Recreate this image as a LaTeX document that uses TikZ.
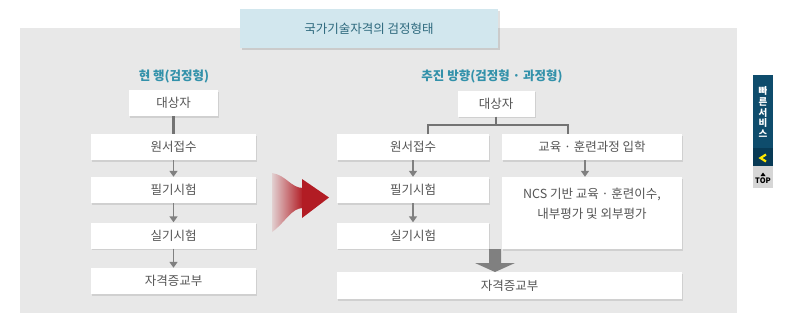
\documentclass[tikz,border=0pt]{standalone}
\usepackage{fontspec}
\newfontfamily\krfont{Noto Sans CJK KR}
\usetikzlibrary{shadows,arrows.meta}
\definecolor{panelgray}{RGB}{232,232,232}
\definecolor{titleblue}{RGB}{210,231,238}
\definecolor{titleink}{RGB}{45,105,125}
\definecolor{headteal}{RGB}{50,145,170}
\definecolor{boxink}{RGB}{85,85,85}
\definecolor{linkgray}{RGB}{128,128,128}
\definecolor{shiftred}{RGB}{178,28,36}
\definecolor{sidenavy}{RGB}{14,76,108}
\definecolor{sidedark}{RGB}{8,58,85}
\definecolor{topgray}{RGB}{214,214,214}
\tikzset{
  stepbox/.style={fill=white,text=boxink,inner sep=0pt,minimum height=26pt,
    align=center,font=\krfont\fontsize{12.5}{20}\selectfont,
    drop shadow={shadow xshift=1pt,shadow yshift=-1.5pt,opacity=.1,fill=black}},
  titlebox/.style={fill=titleblue,text=titleink,inner sep=0pt,
    font=\krfont\fontsize{12.5}{15}\selectfont,
    drop shadow={shadow xshift=1.5pt,shadow yshift=-2pt,opacity=.12,fill=black}},
  headtext/.style={text=headteal,font=\krfont\bfseries\fontsize{12.5}{15}\selectfont},
  flowlink/.style={draw=linkgray,line width=1.8pt,-{Triangle[width=8pt,length=6pt]}},
  stemlink/.style={draw=linkgray!90!black,line width=2.6pt},
  forklink/.style={draw=linkgray!90!black,line width=2pt},
  every picture/.style={line join=miter}
}
\begin{document}
\begin{tikzpicture}[x=1pt,y=-1pt]
  \useasboundingbox (0,0) rectangle (800,316);
  \fill[panelgray] (20,28) rectangle (737,313);
  \node[titlebox,minimum width=258pt,minimum height=39pt] (title) at (369,28.5)
    {국가기술자격의 검정형태};

  % current system
  \node[headtext] (nowhead) at (174,76) {현 행(검정형)};
  \node[stepbox,minimum width=89pt] (ltarget) at (173.5,103) {대상자};
  \node[stepbox,minimum width=165pt] (lapply) at (173.5,147) {원서접수};
  \node[stepbox,minimum width=165pt] (lwrite) at (173.5,190) {필기시험};
  \node[stepbox,minimum width=165pt] (lpract) at (173.5,235.5) {실기시험};
  \node[stepbox,minimum width=165pt] (lissue) at (173.5,281) {자격증교부};
  \draw[stemlink] (ltarget) -- (lapply);
  \draw[flowlink] (lapply) -- (lwrite);
  \draw[flowlink] (lwrite) -- (lpract);
  \draw[flowlink] (lpract) -- (lissue);

  % red shift arrow
  \shade[left color=shiftred!12!panelgray,right color=shiftred]
    (272,173) .. controls (286,175) and (291,188) .. (303,188)
    -- (303,208) .. controls (291,208) and (285,223) .. (272,232) -- cycle;
  \fill[shiftred] (302,179) -- (329,197.5) -- (302,218) -- cycle;

  % planned system
  \node[headtext] (newhead) at (492,76) {추진 방향(검정형 · 과정형)};
  \node[stepbox,minimum width=77pt] (rtarget) at (496,103.5) {대상자};
  \node[stepbox,minimum width=152pt] (rapply) at (413,147) {원서접수};
  \node[stepbox,minimum width=180pt] (rcourse) at (592,147) {교육 · 훈련과정 입학};
  \node[stepbox,minimum width=152pt] (rwrite) at (413,190) {필기시험};
  \node[stepbox,minimum width=152pt] (rpract) at (413,235.5) {실기시험};
  \node[stepbox,minimum width=180pt,minimum height=72pt] (ncs) at (592,213)
    {NCS 기반 교육 · 훈련이수,\\내부평가 및 외부평가\\\mbox{}};
  \node[stepbox,minimum width=345pt,minimum height=27pt] (rissue) at (509.5,285.5) {자격증교부};
  \coordinate (fork) at (496,125);
  \coordinate (legl) at (428,134);
  \coordinate (legr) at (568,134);
  \draw[forklink] (rtarget.south) -- (fork);
  \draw[forklink] (legl) |- (fork) -| (legr);
  \draw[flowlink] (rapply) -- (rwrite);
  \draw[flowlink] (rwrite) -- (rpract);
  \draw[flowlink] (rcourse.south -| 585,0) -- (ncs.north -| 585,0);
  \fill[linkgray] (489,249) -- (501,249) -- (501,263) -- (515,263)
    -- (495,272) -- (475,263) -- (489,263) -- cycle;

  % side bar
  \fill[sidenavy] (753,75) rectangle (773,148);
  \fill[sidedark] (753,148) rectangle (773,166);
  \fill[topgray] (753,166) rectangle (773,188);
  \node[text=white,align=center,inner sep=0pt,
    font=\krfont\bfseries\fontsize{9.5}{10.8}\selectfont] (quick) at (763,112) {빠\\른\\서\\비\\스};
  \draw[yellow!90!orange,line width=2.2pt] (766,154.5) -- (760.5,158) -- (766,161.5);
  \fill[black] (760.5,176) -- (765.5,176) -- (763,172.5) -- cycle;
  \node[inner sep=0pt,font=\krfont\bfseries\fontsize{7.5}{8}\selectfont] (top) at (763,181) {TOP};
\end{tikzpicture}
\end{document}
